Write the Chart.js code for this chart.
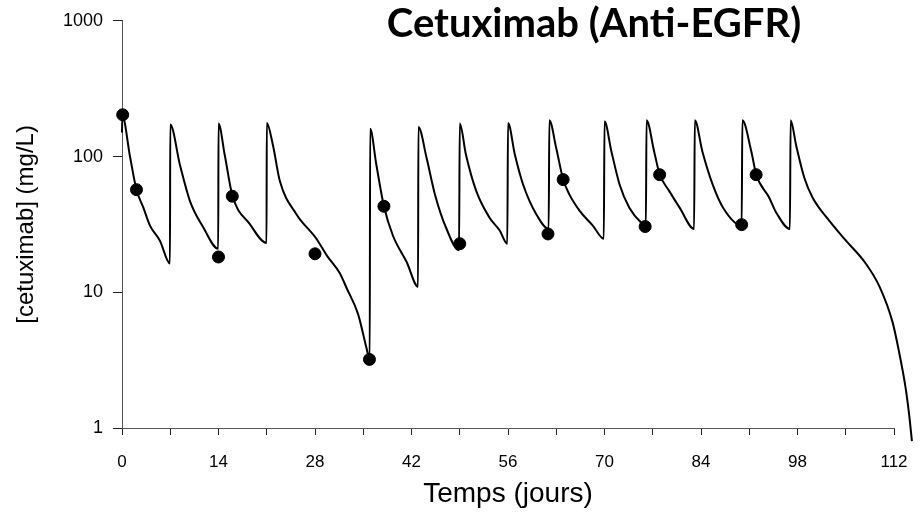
<!DOCTYPE html>
<html>
<head>
<meta charset="utf-8">
<script src="https://cdn.jsdelivr.net/npm/chart.js@4"></script>
<style>
  html, body { margin: 0; padding: 0; background: #fff; }
  #wrap { width: 920px; height: 512px; }
</style>
</head>
<body>
<div id="wrap"><canvas id="myChart" width="920" height="512"></canvas></div>
<script>
// model curve (days, mg/L)
var curveDays = [0, 0.05, 1.16, 2.1, 3.1, 4.06, 5.5, 6.96,
  7.0, 8.4, 9.86, 11.8, 13.96,
  14.0, 14.9, 16.0, 18.55, 20.97,
  21.0, 21.9, 22.9, 25.3, 28.2, 29.7, 31.6, 32.6, 34.25, 35.46, 35.94,
  36.0, 36.9, 38.0, 39.3, 41.3, 42.95,
  43.0, 44.2, 45.4, 47.0, 48.9,
  49.0, 49.9, 51.4, 53.3, 54.8, 55.9,
  56.0, 57.0, 58.2, 60.1, 61.9,
  62.0, 63.0, 64.0, 64.9, 66.4, 68.3, 69.9,
  70.0, 71.0, 72.2, 73.6, 75.3, 76.0,
  76.1, 77.2, 78.0, 79.4, 80.9, 83.0,
  83.1, 84.2, 85.7, 87.2, 89.9,
  90.0, 91.3, 92.0, 93.9, 94.9, 96.9,
  97.0, 97.8, 99.0, 100.2, 102.6, 105.0, 107.9, 109.9, 111.8, 112.75, 113.7, 114.2, 114.6];
var curveConc = [150, 200, 100, 57, 42, 31, 24, 16.3,
  172, 87, 47, 30, 20.9,
  175, 103, 52, 31.8, 23.1,
  177, 121, 66, 37.6, 24.8, 18.7, 13.8, 10.7, 6.9, 3.9, 3.18,
  160, 87, 43, 26.2, 16.7, 11.0,
  165, 97, 52.6, 30, 20.4,
  175, 103, 55.6, 35.6, 28.5, 22.8,
  177, 103, 62, 37.6, 29.3,
  185, 115, 68, 52.6, 39.8, 31, 24.8,
  182, 109, 62, 42, 32.7, 31,
  185, 109, 74, 55.6, 42, 29.3,
  185, 109, 62, 42, 31,
  185, 109, 74, 49.7, 38.7, 29.3,
  185, 121, 69.5, 49.7, 33.7, 24.1, 16.3, 11.0, 6.0, 3.6, 1.95, 1.25, 0.8];

// observed concentrations
var obsDays = [0.1, 2.1, 14.0, 16.0, 28.0, 35.9, 38.0, 49.0, 61.8, 64.0, 75.9, 78.0, 89.9, 92.0];
var obsConc = [203, 57, 18.2, 51, 19.2, 3.2, 43, 22.8, 26.9, 67.6, 30.5, 73.5, 31.5, 73.5];

var yTicks = [1, 10, 100, 1000];

function toXY(xs, ys) {
  return xs.map(function (x, i) { return {x: x, y: ys[i]}; });
}

var titlePlugin = {
  id: 'topTitle',
  afterDraw: function (chart) {
    var ctx = chart.ctx;
    ctx.save();
    ctx.font = 'bold 40px Lato';
    ctx.fillStyle = '#000';
    ctx.textAlign = 'center';
    ctx.textBaseline = 'middle';
    ctx.fillText('Cetuximab (Anti-EGFR)', 594, 24);
    ctx.restore();
  }
};

new Chart('myChart', {
  type: 'scatter',
  data: {
    datasets: [{
      data: toXY(obsDays, obsConc),
      backgroundColor: '#000',
      borderColor: '#000',
      pointRadius: 6,
      order: 0
    }, {
      data: toXY(curveDays, curveConc),
      showLine: true,
      borderColor: '#000',
      borderWidth: 2,
      pointRadius: 0,
      cubicInterpolationMode: 'monotone',
      clip: false,
      order: 1
    }]
  },
  options: {
    responsive: false,
    animation: false,
    layout: {padding: {top: 16, right: 26, left: 0, bottom: 0}},
    plugins: {
      legend: {display: false},
      tooltip: {enabled: false}
    },
    scales: {
      x: {
        type: 'linear',
        bounds: 'data',
        // range set here (not min/max) so the tail past day 112 is still drawn
        afterDataLimits: function (s) { s.min = 0; s.max = 112; },
        afterBuildTicks: function (s) {
          var t = [];
          for (var d = 0; d <= 112; d += 7) t.push({value: d});
          s.ticks = t;
        },
        afterFit: function (s) { s.height = 84; s.paddingRight = 0; s.paddingLeft = 0; },
        grid: {drawOnChartArea: false, tickLength: 7, color: '#222'},
        border: {color: '#555'},
        ticks: {
          color: '#000',
          font: {family: 'Liberation Sans', size: 17},
          maxRotation: 0,
          autoSkip: false,
          padding: 17,
          callback: function (v) { return v % 14 === 0 ? String(v) : ''; }
        },
        title: {display: true, text: 'Temps (jours)', color: '#000',
          font: {family: 'Liberation Sans', size: 28}, padding: {top: 0, bottom: 1}}
      },
      y: {
        type: 'logarithmic',
        min: 1,
        max: 1000,
        afterBuildTicks: function (s) {
          s.ticks = yTicks.map(function (v) { return {value: v}; });
        },
        afterFit: function (s) { s.width = 122; },
        grid: {drawOnChartArea: false, tickLength: 9, color: '#222'},
        border: {color: '#555'},
        ticks: {
          color: '#000',
          font: {family: 'Liberation Sans', size: 18},
          padding: 10,
          callback: function (v) { return String(v); }
        },
        title: {display: true, text: '[cetuximab] (mg/L)', color: '#000',
          font: {family: 'Liberation Sans', size: 24}, padding: {top: 12, bottom: 4}}
      }
    }
  },
  plugins: [titlePlugin]
});
</script>
</body>
</html>
